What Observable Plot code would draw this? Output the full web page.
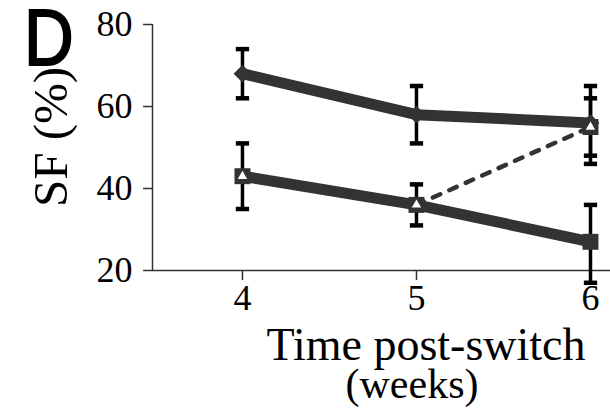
<!DOCTYPE html>
<html><head><meta charset="utf-8">
<script src="https://cdn.jsdelivr.net/npm/d3@7"></script>
<script src="https://cdn.jsdelivr.net/npm/@observablehq/plot@0.6"></script>
<style>body{margin:0;background:#fff}</style>
</head><body><div id="chart"></div>
<script>
// ---- data ----
const weeks = [4, 5, 6];
const switchMean = [68, 58, 56];
const switchLow = [62, 51, 46];
const switchHigh = [74, 65, 65];
const stayMean = [43, 36, 27];
const stayLow = [35, 31, 17];
const stayHigh = [51, 41, 36];
const returnWeeks = [5, 6];
const returnMean = [36, 55];
const returnLow = [NaN, 48];
const returnHigh = [NaN, 62];
const yTicks = [20, 40, 60, 80];
const xTicks = [4, 5, 6];
const xDomain = [3.483, 6.115];
const yDomain = [20, 80];

const switchData = weeks.map((w, i) => ({w, m: switchMean[i], lo: switchLow[i], hi: switchHigh[i]}));
const stayData = weeks.map((w, i) => ({w, m: stayMean[i], lo: stayLow[i], hi: stayHigh[i]}));
const returnData = returnWeeks.map((w, i) => ({w, m: returnMean[i], lo: returnLow[i], hi: returnHigh[i]}));
const errData = [...switchData, ...stayData, ...returnData.filter(d => !isNaN(d.lo))];

const cap = {draw(ctx, size) { const h = Math.sqrt(size) / 2; ctx.moveTo(-h, 0); ctx.lineTo(h, 0); }};
const dark = "#333";

const chart = Plot.plot({
  width: 610, height: 414,
  marginLeft: 152, marginRight: 0, marginTop: 24, marginBottom: 144,
  style: {fontFamily: "'Liberation Serif', serif", background: "#fff", color: "#000"},
  x: {domain: xDomain},
  y: {domain: yDomain},
  marks: [
    Plot.axisY({ticks: yTicks, tickFormat: d => String(d), tickSize: 9, tickPadding: 11, fontSize: 36, label: null, stroke: dark, strokeWidth: 1.5, fill: "#000"}),
    Plot.axisX({ticks: xTicks, tickFormat: d => String(d), tickSize: 10, tickPadding: 4, fontSize: 36, label: null, stroke: dark, strokeWidth: 1.5, fill: "#000"}),
    Plot.ruleX([xDomain[0]], {stroke: dark, strokeWidth: 1.5}),
    Plot.ruleY([yDomain[0]], {stroke: dark, strokeWidth: 1.5}),
    Plot.ruleX(errData, {x: "w", y1: "lo", y2: "hi", stroke: "#000", strokeWidth: 3.5, clip: false}),
    Plot.dot(errData, {x: "w", y: "lo", symbol: cap, r: 7.5, stroke: "#000", strokeWidth: 4.5}),
    Plot.dot(errData, {x: "w", y: "hi", symbol: cap, r: 7.5, stroke: "#000", strokeWidth: 4.5}),
    Plot.line(returnData, {x: "w", y: "m", stroke: dark, strokeWidth: 4.5, strokeDasharray: "8,10"}),
    Plot.line(switchData, {x: "w", y: "m", stroke: dark, strokeWidth: 11}),
    Plot.line(stayData, {x: "w", y: "m", stroke: dark, strokeWidth: 11}),
    Plot.dot(switchData, {x: "w", y: "m", symbol: "diamond2", r: 8, fill: dark}),
    Plot.dot(stayData, {x: "w", y: "m", symbol: "square", r: 9, fill: dark}),
    Plot.dot(returnData.slice(1), {x: "w", y: "m", symbol: "square", r: 9, fill: dark}),
    Plot.dot(stayData.slice(0, 2), {x: "w", y: "m", symbol: "triangle", r: 3.5, fill: "#fff"}),
    Plot.dot(returnData.slice(1), {x: "w", y: "m", symbol: "triangle", r: 3.5, fill: "#fff"})
  ]
});

const svg = d3.select(chart);
svg.append("text").text("D")
  .attr("transform", "translate(24,65) scale(0.86,1)")
  .attr("text-anchor", "start")
  .attr("font-family", "'Liberation Sans', Arial, sans-serif")
  .attr("font-size", 80).attr("fill", "#000")
  .attr("stroke", "#000").attr("stroke-width", 2);
svg.append("text").text("SF (%)")
  .attr("transform", "translate(67,137) rotate(-90)")
  .attr("text-anchor", "middle")
  .attr("font-family", "'Liberation Serif', serif")
  .attr("font-size", 49).attr("fill", "#000");
svg.append("text").text("Time post-switch")
  .attr("x", 426).attr("y", 360)
  .attr("text-anchor", "middle")
  .attr("font-family", "'Liberation Serif', serif")
  .attr("font-size", 46).attr("fill", "#000");
svg.append("text").text("(weeks)")
  .attr("x", 412).attr("y", 398)
  .attr("text-anchor", "middle")
  .attr("font-family", "'Liberation Serif', serif")
  .attr("font-size", 42).attr("fill", "#000");

document.getElementById("chart").append(chart);
</script>
</body></html>
